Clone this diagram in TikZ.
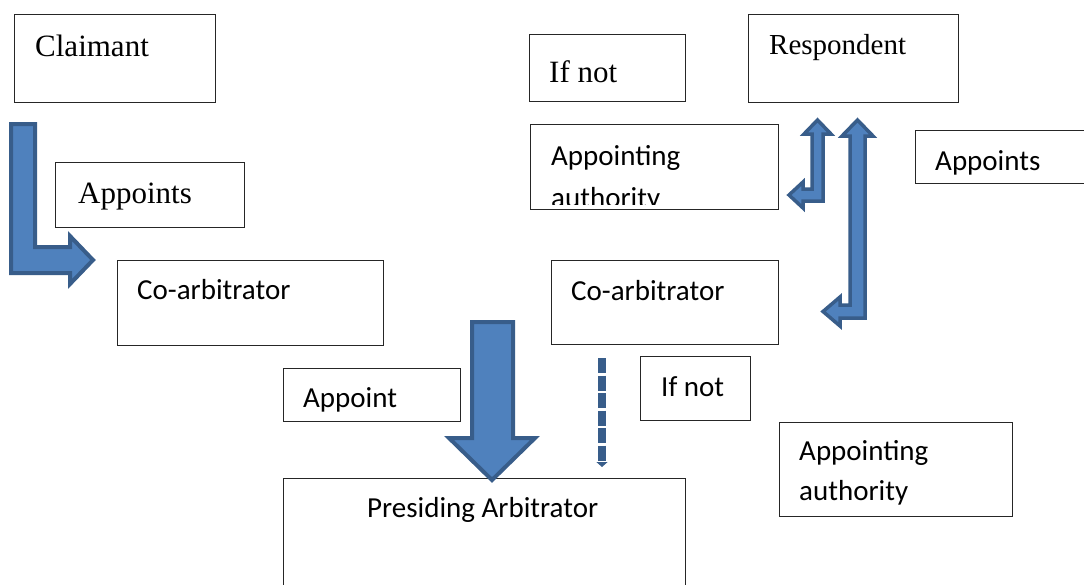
\documentclass[tikz,border=0pt]{standalone}
\usepackage{fontspec}
\setmainfont{Liberation Serif}
\newfontfamily\calibri{Carlito}
\usepackage{tikz}
\usetikzlibrary{arrows.meta}

\definecolor{arrowfill}{HTML}{4F81BD}
\definecolor{arrowline}{HTML}{385D8A}

\begin{document}
\begin{tikzpicture}[>=Stealth, x=1pt, y=-1pt,
  box/.style={draw=black!85, line width=1pt, anchor=north west, inner sep=0pt},
  serif/.style={font=\fontsize{31}{37}\selectfont, anchor=base west, inner sep=0pt},
  lbl/.style={font=\calibri\fontsize{29}{35}\selectfont, anchor=base west, inner sep=0pt},
  blockarrow/.style={fill=arrowfill, draw=arrowline, line width=4pt, line join=miter}]
  \useasboundingbox (0,0) rectangle (1084,584);

  % Claimant side
  \node[box, minimum width=201pt, minimum height=88pt] (claimantbox) at (14,14) {};
  \node[serif] (claimant) at (35,56) {Claimant};
  \node[box, minimum width=189pt, minimum height=65pt] (appointsbox) at (55,162) {};
  \node[serif] (appoints) at (78,203) {Appoints};
  \node[box, minimum width=266pt, minimum height=85pt] (coarbbox) at (117,260) {};
  \node[lbl] (coarb) at (137,299) {Co-arbitrator};

  % Respondent side
  \node[box, minimum width=156pt, minimum height=67pt] (ifnotbox) at (529,34) {};
  \node[serif] (ifnot) at (549,82) {If not};
  \node[box, minimum width=210pt, minimum height=88pt] (respbox) at (748,14) {};
  \node[serif, font=\fontsize{29}{35}\selectfont] (resp) at (769,54) {Respondent};
  \node[box, minimum width=248pt, minimum height=85pt] (authbox) at (530,124) {};
  \node[lbl] (auth) at (551,165) {Appointing};
  \begin{scope}
    \clip (530,124) rectangle (778,204);
    \node[lbl] (authb) at (551,207) {authority};
  \end{scope}
  \node[box, minimum width=180pt, minimum height=53pt] (rappointsbox) at (915,130) {};
  \node[lbl] (rappoints) at (935,170) {Appoints};
  \node[box, minimum width=227pt, minimum height=84pt] (rcoarbbox) at (551,260) {};
  \node[lbl] (rcoarb) at (571,300) {Co-arbitrator};

  % Presiding arbitrator
  \node[box, minimum width=177pt, minimum height=53pt] (appointbox) at (283,368) {};
  \node[lbl] (appoint) at (303,407) {Appoint};
  \node[box, minimum width=110pt, minimum height=64pt] (ifnotbbox) at (640,356) {};
  \node[lbl] (ifnotb) at (661,396) {If not};
  \node[box, minimum width=233pt, minimum height=94pt] (authlbox) at (779,422) {};
  \node[lbl] (authl) at (799,460) {Appointing};
  \node[lbl] (authlb) at (799,500) {authority};
  \node[box, minimum width=402pt, minimum height=120pt] (presbox) at (283,478) {};
  \node[lbl] (pres) at (367,517) {Presiding Arbitrator};

  % Block arrows
  \draw[blockarrow] (11,124) -- (35,124) -- (35,247) -- (70,247) -- (70,236)
    -- (93,260) -- (70,284) -- (70,273) -- (11,273) -- cycle;
  \draw[blockarrow, line width=3.5pt] (817.5,120) -- (831,134) -- (823,134) -- (823,201)
    -- (803,201) -- (803,208) -- (789,195) -- (803,182) -- (803,189)
    -- (812,189) -- (812,134) -- (804,134) -- cycle;
  \draw[blockarrow, line width=3.5pt] (857.5,120) -- (873,136) -- (865,136) -- (865,318)
    -- (840,318) -- (840,326) -- (823,311.5) -- (840,297) -- (840,305)
    -- (850,305) -- (850,136) -- (842,136) -- cycle;
  \draw[blockarrow] (472,322) -- (513,322) -- (513,438) -- (535,438)
    -- (492,480) -- (449,438) -- (472,438) -- cycle;

  % Dashed arrow
  \coordinate (dtop) at (602,358);
  \coordinate (dbot) at (602,467);
  \draw[arrowline, line width=8pt, dash pattern=on 15pt off 2.5pt,
    -{Triangle[length=5pt, width=11pt]}] (dtop) -- (dbot);
\end{tikzpicture}
\end{document}
